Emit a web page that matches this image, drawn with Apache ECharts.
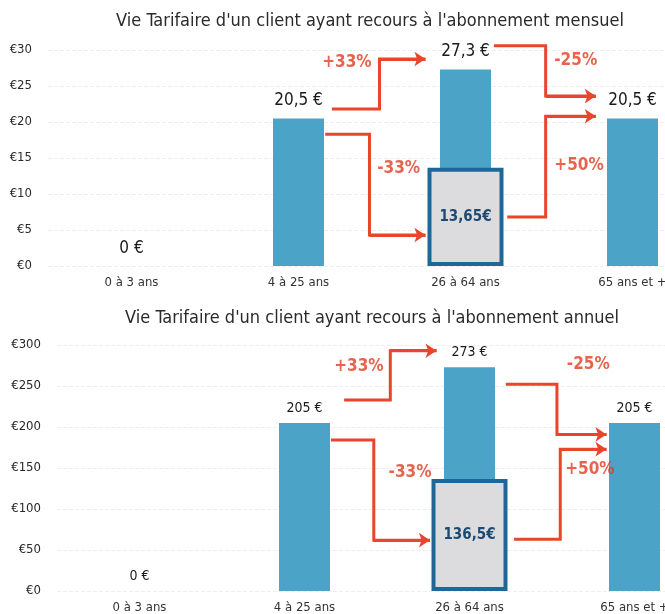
<!DOCTYPE html>
<html><head><meta charset="utf-8">
<script src="https://cdn.jsdelivr.net/npm/echarts@6/dist/echarts.min.js"></script>
<style>html,body{margin:0;padding:0;background:#fff;overflow:hidden}#c{width:720px;height:614px}</style>
</head><body><div id="c"></div>
<script>
// ---- data ----
const categories = ['0 à 3 ans', '4 à 25 ans', '26 à 64 ans', '65 ans et +'];
const monthlyValues = [0, 20.5, 27.3, 20.5];
const monthlyReduced = [null, null, 13.65, null];
const annualValues = [0, 205, 273, 205];
const annualReduced = [null, null, 136.5, null];
const monthlyTicks = [0, 5, 10, 15, 20, 25, 30];
const annualTicks = [0, 50, 100, 150, 200, 250, 300];
const titles = ["Vie Tarifaire d'un client ayant recours à l'abonnement mensuel",
                "Vie Tarifaire d'un client ayant recours à l'abonnement annuel"];
const changeLabels = ['+33%', '-33%', '-25%', '+50%'];

// ---- annotation geometry (data units: category index, value) ----
const monthlyArrows = [
  [[1.20, 21.8], [1.485, 21.8], [1.485, 28.75], [1.76, 28.75]],
  [[1.16, 18.3], [1.425, 18.3], [1.425, 4.3], [1.76, 4.3]],
  [[2.17, 30.6], [2.48, 30.6], [2.48, 23.6], [2.78, 23.6]],
  [[2.25, 6.8], [2.48, 6.8], [2.48, 20.8], [2.78, 20.8]]
];
const monthlyLabelPos = [[1.29, 28.3], [1.60, 13.6], [2.66, 28.5], [2.68, 14.0]];
const annualArrows = [
  [[1.24, 233], [1.52, 233], [1.52, 293], [1.80, 293]],
  [[1.16, 184], [1.42, 184], [1.42, 62], [1.76, 62]],
  [[2.22, 252], [2.53, 252], [2.53, 191], [2.83, 191]],
  [[2.27, 63], [2.55, 63], [2.55, 173], [2.83, 173]]
];
const annualLabelPos = [[1.33, 274], [1.64, 145], [2.72, 276], [2.73, 148]];

const FONT = "'Liberation Sans Narrow', 'DejaVu Sans Condensed', 'Roboto', sans-serif";
const BLUE = '#4ba3c7', RED = '#e8452c', LABELRED = '#e03c22', BOXFILL = '#dcdcdf', BOXBORDER = '#1e6796';

const fmtVal = v => String(v).replace('.', ',');

function gridParts(gi, ticks, values, reduced, arrows, labelPos, valFont, valDist) {
  const xb = gi * 3;
  const xAxes = [
    { gridIndex: gi, type: 'category', data: categories,
      axisLine: { show: false }, axisTick: { show: false },
      axisLabel: { color: '#333', fontSize: 13, margin: 10, fontFamily: FONT } },
    { gridIndex: gi, type: 'value', min: -0.5, max: 3.5, show: false },
    { gridIndex: gi, type: 'category', data: categories, show: false }
  ];
  const interval = ticks[1] - ticks[0];
  const yAxis = { gridIndex: gi, type: 'value', min: ticks[0], max: ticks[ticks.length - 1], interval: interval,
    axisLine: { show: false }, axisTick: { show: false },
    axisLabel: { color: '#2a2a2a', fontSize: 13, margin: 16, fontFamily: FONT, formatter: v => '€' + v },
    splitLine: { lineStyle: { color: '#eeeeee', type: 'dashed' } } };
  const series = [
    { type: 'bar', xAxisIndex: xb, yAxisIndex: gi, data: values, barWidth: 51,
      itemStyle: { color: BLUE },
      label: { show: true, position: 'top', distance: valDist, color: '#1a1a1a', fontSize: valFont,
        fontFamily: FONT, formatter: p => fmtVal(p.value) + ' €' } },
    { type: 'bar', xAxisIndex: xb + 2, yAxisIndex: gi, data: reduced, barWidth: 76, z: 3,
      itemStyle: { color: BOXFILL, borderColor: BOXBORDER, borderWidth: 4 },
      label: { show: true, position: 'inside', color: '#1d4a72', fontSize: 15, fontWeight: 'bold',
        fontFamily: FONT, formatter: p => fmtVal(p.value) + '€' } },
    { type: 'lines', coordinateSystem: 'cartesian2d', xAxisIndex: xb + 1, yAxisIndex: gi,
      polyline: true, clip: false, z: 4, symbol: 'none',
      lineStyle: { color: RED, width: 3, opacity: 1, join: 'miter' },
      data: arrows.map(a => ({ coords: a })) },
    { type: 'lines', coordinateSystem: 'cartesian2d', xAxisIndex: xb + 1, yAxisIndex: gi,
      clip: false, z: 4, symbol: ['none', 'arrow'], symbolSize: 11,
      lineStyle: { color: RED, width: 3, opacity: 1 },
      data: arrows.map(a => ({ coords: [a[a.length - 2], a[a.length - 1]] })) },
    { type: 'scatter', xAxisIndex: xb + 1, yAxisIndex: gi, symbolSize: 0, z: 5, clip: false,
      label: { show: true, position: 'inside', color: LABELRED, fontSize: 17, fontWeight: 'bold', fontFamily: FONT },
      data: labelPos.map((p, i) => ({ value: p, label: { formatter: changeLabels[i] } })) }
  ];
  return { xAxes, yAxis, series };
}

const g0 = gridParts(0, monthlyTicks, monthlyValues, monthlyReduced, monthlyArrows, monthlyLabelPos, 17, 9);
const g1 = gridParts(1, annualTicks, annualValues, annualReduced, annualArrows, annualLabelPos, 14, 8);

const chart = echarts.init(document.getElementById('c'));
chart.setOption({
  animation: false,
  textStyle: { fontFamily: FONT },
  title: [
    { text: titles[0], left: 365, top: 7, textAlign: 'center',
      textStyle: { fontSize: 18, fontWeight: 'normal', color: '#2a2a2a', fontFamily: FONT } },
    { text: titles[1], left: 367, top: 304, textAlign: 'center',
      textStyle: { fontSize: 18, fontWeight: 'normal', color: '#2a2a2a', fontFamily: FONT } }
  ],
  grid: [
    { left: 48, top: 50, width: 668, height: 216 },
    { left: 57, top: 345, width: 660, height: 246 }
  ],
  xAxis: [...g0.xAxes, ...g1.xAxes],
  yAxis: [g0.yAxis, g1.yAxis],
  series: [...g0.series, ...g1.series]
});
</script>
</body></html>
